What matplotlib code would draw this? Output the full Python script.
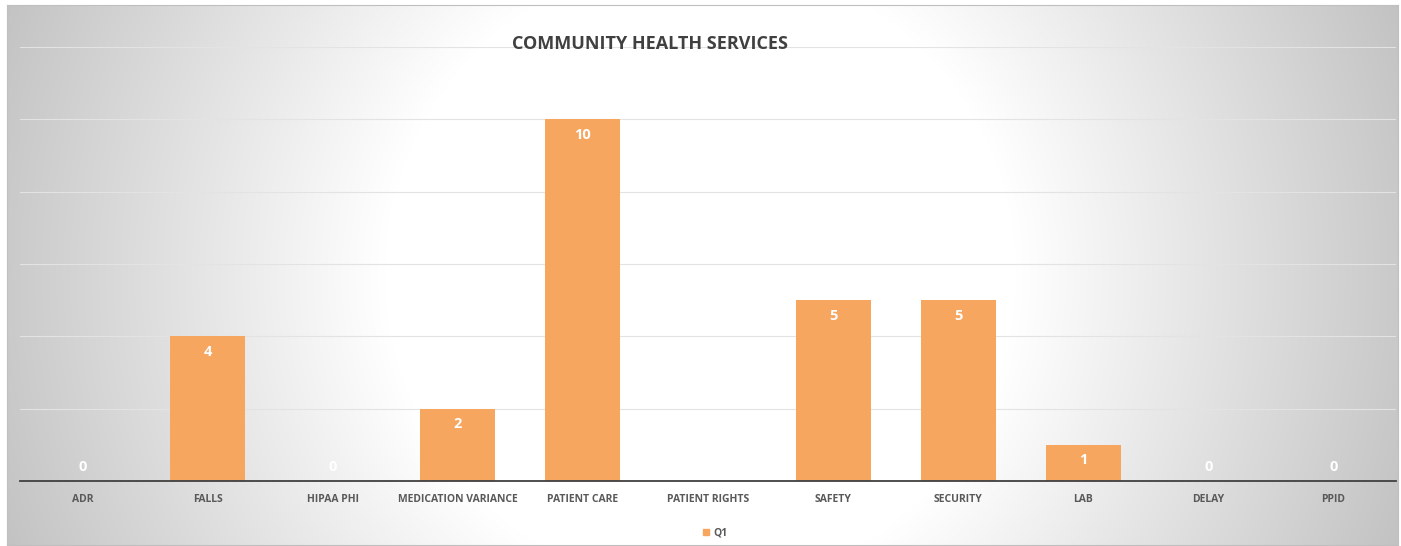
import numpy as np
import matplotlib
matplotlib.use("Agg")
import matplotlib.pyplot as plt
from matplotlib.patches import Rectangle
from matplotlib.transforms import offset_copy

categories = ["ADR", "FALLS", "HIPAA PHI", "MEDICATION VARIANCE", "PATIENT CARE",
              "PATIENT RIGHTS", "SAFETY", "SECURITY", "LAB", "DELAY", "PPID"]
q1_values = [0, 4, 0, 2, 10, 0, 5, 5, 1, 0, 0]
series_name = "Q1"
title = "COMMUNITY HEALTH SERVICES"

W, H = 1401, 546
FONT = "Open Sans"
BAR = "#F7A660"
TXT = "#595959"

fig = plt.figure(figsize=(W / 100, H / 100), dpi=100)
fig.patch.set_facecolor("white")

# background radial gradient
bx0, bx1, by0, by1 = 7, 1398, 5, 545
bg = fig.add_axes([bx0 / W, 1 - by1 / H, (bx1 - bx0) / W, (by1 - by0) / H])
xs = np.arange(bx0, bx1)
ys = np.arange(by0, by1)
X, Y = np.meshgrid(xs, ys)
cx, cy = 700, 273
d = np.sqrt((X - cx) ** 2 + (Y - cy) ** 2) / np.sqrt(700 ** 2 + 273 ** 2)
t = np.clip((d - 0.42) / 0.58, 0, 1)
v = (255 - t * (255 - 194)) / 255.0
img = np.dstack([v, v, v])
bg.imshow(img, aspect="auto", interpolation="bilinear")
bg.set_xticks([]); bg.set_yticks([])
for s in bg.spines.values():
    s.set_color("#bfbfbf"); s.set_linewidth(0.8)

# main axes
left, right, bottom_px, top_px = 20, 1396, 481, 47
ax = fig.add_axes([left / W, 1 - bottom_px / H, (right - left) / W, (bottom_px - top_px) / H])
ax.set_facecolor("none")
x = np.arange(len(categories))
bars = ax.bar(x, q1_values, width=0.6, color=BAR, zorder=3, label=series_name)
ax.set_xlim(-0.5, len(categories) - 0.5)
ax.set_ylim(0, 12)
ax.set_yticks(np.arange(0, 13, 2))
ax.yaxis.grid(True, color="#e3e3e3", linewidth=0.8, zorder=0)
ax.set_axisbelow(True)
ax.tick_params(axis="y", left=False, labelleft=False)
ax.tick_params(axis="x", bottom=False, pad=6)
for s in ["top", "right", "left"]:
    ax.spines[s].set_visible(False)
ax.spines["bottom"].set_color("#404040")
ax.spines["bottom"].set_linewidth(1.3)
ax.spines["bottom"].set_zorder(4)
ax.set_xticks(x)
ax.set_xticklabels(categories, fontsize=7.5, fontweight="bold", color=TXT, family=FONT)

for xi, val in zip(x, q1_values):
    if val == 0:
        tr = offset_copy(ax.transData, fig=fig, x=0, y=14 * 72 / 100, units="points")
    else:
        tr = offset_copy(ax.transData, fig=fig, x=0, y=-15.5 * 72 / 100, units="points")
    ax.text(xi, val, str(val), ha="center", va="center", color="white",
            fontsize=10.5, fontweight="bold", family=FONT, zorder=5, transform=tr)

fig.text(650 / W, 1 - 44 / H, title, ha="center", va="center", fontsize=13,
         fontweight="bold", color="#404040", family=FONT)

leg = fig.legend(handles=[Rectangle((0, 0), 1, 1, color=BAR)], labels=[series_name],
                 loc="center", bbox_to_anchor=(715 / W, 1 - 533 / H), frameon=False,
                 handlelength=0.6, handleheight=0.6, handletextpad=0.4,
                 prop={"family": FONT, "weight": "bold", "size": 7.5})
for t_ in leg.get_texts():
    t_.set_color(TXT)

fig.savefig("out.png", dpi=100)
